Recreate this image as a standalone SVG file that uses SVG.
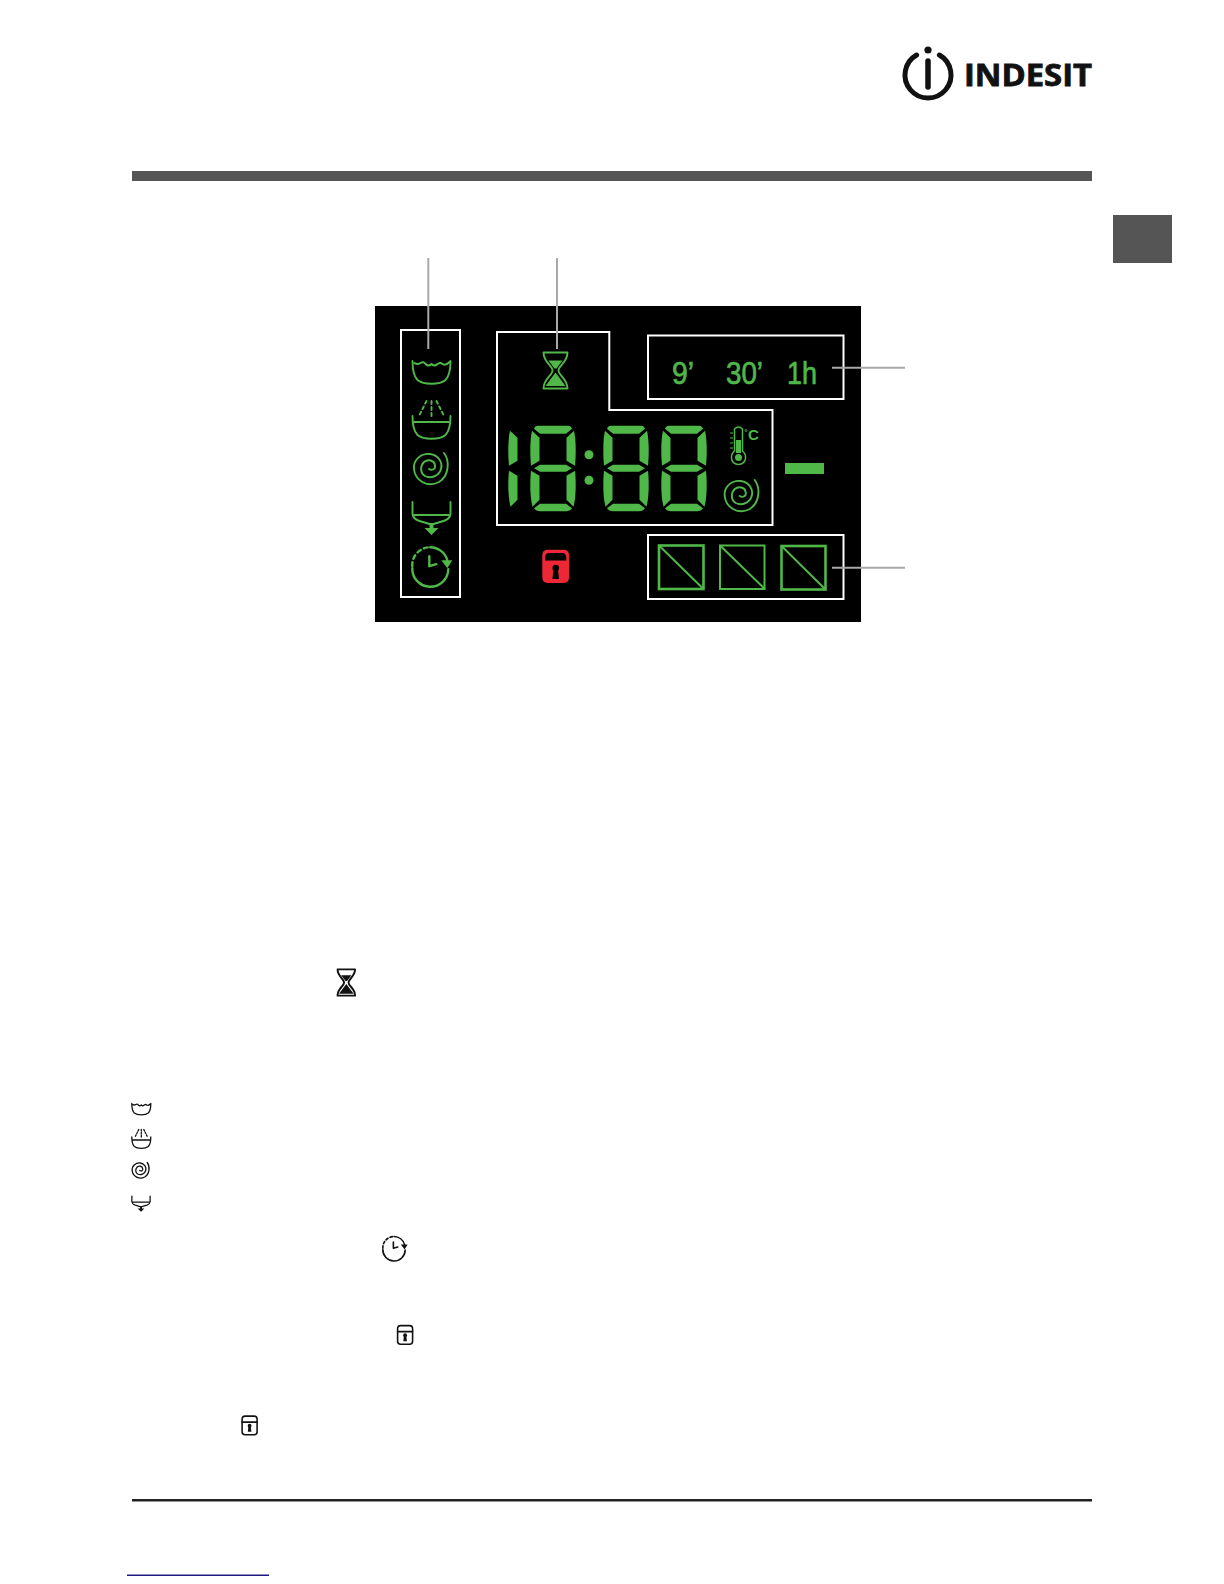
<svg xmlns="http://www.w3.org/2000/svg" xmlns:xlink="http://www.w3.org/1999/xlink" width="1224" height="1584" viewBox="0 0 1224 1584">
<style>
.g{color:#4fb848;stroke-width:1.9}
.k{color:#111;stroke-width:2.6}
.ln{fill:none;stroke:currentColor;stroke-linecap:round;stroke-linejoin:round}
.fl{fill:currentColor;stroke:none}
.box{fill:none;stroke:#fff;stroke-width:2}
.lead{fill:none;stroke:#a7a9ac;stroke-width:2}
.seg{fill:#4fb848}
.sq{fill:none;stroke:#4fb848;stroke-width:2.6}
.t{font-family:"Liberation Sans",Arial,sans-serif;fill:#4fb848;stroke:#4fb848;stroke-width:.7}
</style>
<defs>
<path id="spiral" class="ln" d="M13,-15 C19,-7 18,8 8,14 C-3,20 -16,13 -17,1 C-18,-9 -9,-15 -1,-14 C7,-13 12,-6 10,1 C8,8 0,11 -6,8 C-11,5 -11,-2 -7,-6 C-3,-9 3,-8 4,-3 C5,1 1,3 -2,1"/>
<g id="tub1"><path class="ln" d="M-19,1 C-19,9 -18,16 -14,20 C-8,25 8,25 14,20 C18,16 19,9 19,1 M-17,3 Q-14,5 -11,3 Q-8,1 -6,4 Q-3,7 0,4 Q3,7 6,4 Q9,2 11,4 Q14,6 18,2"/></g>
<g id="tub2"><path class="ln" d="M-19,1 C-19,9 -18,16 -14,20 C-8,25 8,25 14,20 C18,16 19,9 19,1 M-17,7 H17"/><path class="ln" stroke-dasharray="3 3" d="M0,-14 V3 M-5,-14 L-12,0 M5,-14 L12,0"/></g>
<g id="drain"><path class="ln" d="M-19,0 V12 C-18,18 -14,18 -12,19 L-2,22 M19,0 V12 C18,18 14,18 12,19 L2,22 M-17,13 H17"/><path class="fl" d="M-2,21 H2 V26 H7 L0,33 L-7,26 H-2 Z"/></g>
<g id="clock"><path class="ln" d="M-18,3 A18,18 0 0 0 18,4 M0,-18 A18,18 0 0 1 17,-5"/><path class="ln" stroke-dasharray="4 3.5" d="M-18,1 A18,18 0 0 1 -1,-18"/><path class="ln" d="M-1,-9 V1 L6,-1"/><path class="fl" d="M11,-5 L22,-5 L17,3 Z"/></g>
<g id="hour"><path class="ln" d="M-12,-18 H12 M-12,18 H12 M-12,-18 C-12,-8 -3,-5 -3,0 C-3,5 -12,8 -12,18 M12,-18 C12,-8 3,-5 3,0 C3,5 12,8 12,18"/><path class="fl" d="M-7,-10 H7 L1,-2 H-1 Z M0,2 L10,15.5 H-10 Z"/></g>
<g id="lockk"><rect class="ln" x="1" y="1" width="25" height="31" rx="5"/><path class="ln" d="M1,11 H26"/><circle class="fl" cx="13.5" cy="17" r="3.2"/><path class="fl" d="M11.5,18 H15.5 L16.5,27 H10.5 Z"/></g>
<path id="lu" class="seg" d="M2,5 L9.500,12 V35 L1,40 C0,30 -.2,14 2,5 Z"/>
<path id="ll" class="seg" d="M1,45 L9.500,50 V74 L2.500,81 C0,72 -.2,56 1,45 Z"/>
<g id="eight">
<path class="seg" d="M8,0 H38 Q41,0 42,3 L36,8 H10 L4,3 Q5,0 8,0 Z"/>
<use href="#lu"/><use href="#ll"/>
<use href="#lu" transform="matrix(-1 0 0 1 46 0)"/><use href="#ll" transform="matrix(-1 0 0 1 46 0)"/>
<path class="seg" d="M4,42.500 L10,39 H36 L42,42.500 L36,46 H10 Z"/>
<path class="seg" d="M10,78 H36 L42,82.500 Q40,85.500 36,85.500 H10 Q6,85.500 4,82.500 Z"/>
</g>
</defs>
<rect width="1224" height="1584" fill="#fff"/>
<g id="logo">
<path d="M916.600,55 A23,23 0 1 0 939.400,55" fill="none" stroke="#111" stroke-width="5" stroke-linecap="round"/>
<circle cx="928" cy="50" r="3.600" fill="#111"/>
<path d="M928,61 V87" stroke="#111" stroke-width="5.500" stroke-linecap="round"/>
<text x="964" y="86" font-family="Open Sans,Liberation Sans,sans-serif" font-weight="700" font-size="31" textLength="128" lengthAdjust="spacingAndGlyphs" fill="#111" stroke="#111" stroke-width=".8">INDESIT</text>
</g>
<rect id="top-bar" x="132" y="171" width="960" height="10" fill="#555"/>
<rect id="side-tab" x="1113" y="215" width="59" height="48" fill="#555"/>
<rect id="panel" x="375" y="306" width="486" height="316" fill="#000"/>
<g id="boxes">
<rect class="box" x="401" y="330" width="59" height="267"/>
<path class="box" d="M497,332 H609.300 V410 H772.500 V525 H497 Z"/>
<rect class="box" x="648" y="335.500" width="195.500" height="63.500"/>
<rect class="box" x="648" y="535" width="195.500" height="64"/>
</g>
<g id="connectors">
<path class="lead" d="M428.300,258 V349"/>
<path class="lead" d="M557,258 V349"/>
<path class="lead" d="M832,367.700 H905"/>
<path class="lead" d="M832,567.700 H905"/>
</g>
<g id="phase-icons" class="g">
<use href="#tub1" x="431.500" y="360"/>
<use href="#tub2" x="431.500" y="415"/>
<use href="#spiral" x="431" y="468"/>
<use href="#drain" x="431.500" y="502"/>
<use href="#clock" x="430.300" y="565.200" style="stroke-width:2.400"/>
</g>
<g id="hourglass" class="g"><use href="#hour" x="555.500" y="370.500"/></g>
<g id="lock-red">
<rect x="542.300" y="549.700" width="26.700" height="33.300" rx="5" fill="#ee2737"/>
<path d="M545,558 Q545,553 549,553 H562 Q566.300,553 566.300,558 V560.500 H545 Z" fill="#000"/>
<circle cx="555.700" cy="568" r="3.300" fill="#000"/>
<path d="M553.500,569 H557.900 L559,579 H552.400 Z" fill="#000"/>
</g>
<g id="time-digits">
<use href="#ll" x="508" y="425.700"/><use href="#lu" x="508" y="425.700"/>
<use href="#eight" x="530" y="425.700"/>
<circle class="seg" cx="589" cy="454.700" r="4.500"/><circle class="seg" cx="589" cy="480.300" r="4.500"/>
<use href="#eight" x="603" y="425.700"/>
<use href="#eight" x="661" y="425.700"/>
</g>
<g id="temperature">
<path d="M734.500,429 Q738.500,425 742.500,429 V451 Q746,454 745.500,458 A7,6.500 0 0 1 731.500,458 Q731,454 734.500,451 Z" fill="none" stroke="#4fb848" stroke-width="1.500"/>
<rect x="736" y="440" width="5" height="13" fill="#4fb848"/><circle cx="738.500" cy="457.500" r="3.500" fill="#4fb848"/>
<path d="M730,433 H733 M730,438 H733 M730,443 H733 M730,448 H733" stroke="#4fb848" stroke-width="1"/>
<circle cx="746" cy="430.500" r="1" fill="none" stroke="#4fb848" stroke-width=".8"/>
<text class="t" x="748" y="440" font-size="15" font-weight="700" style="stroke-width:0">C</text>
</g>
<g id="spin-icon" class="g"><use href="#spiral" x="741.700" y="495"/></g>
<rect id="dash" x="785" y="463" width="39" height="11" fill="#4fb848"/>
<g id="time-labels">
<text class="t" x="672" y="384" font-size="32" textLength="22" lengthAdjust="spacingAndGlyphs">9’</text>
<text class="t" x="726" y="384" font-size="32" textLength="37" lengthAdjust="spacingAndGlyphs">30’</text>
<text class="t" x="787" y="384" font-size="32" textLength="30" lengthAdjust="spacingAndGlyphs">1h</text>
</g>
<g id="squares">
<rect class="sq" x="659" y="545.500" width="44.500" height="43.500"/><path class="sq" d="M659,545.500 L703.500,589" style="stroke-width:2"/>
<rect class="sq" x="720" y="545.500" width="44.500" height="43.500" style="stroke-width:2"/><path class="sq" d="M720,545.500 L765,589" style="stroke-width:2"/>
<rect class="sq" x="781.500" y="546" width="44" height="43.500"/><path class="sq" d="M781.500,546 L825.500,589.500" style="stroke-width:2"/>
</g>
<g id="icon-hourglass-small" class="k"><use href="#hour" transform="translate(346.300 982.500) scale(.73)"/></g>
<g id="icon-tub1-small" class="k"><use href="#tub1" transform="translate(141.300 1103) scale(.5)"/></g>
<g id="icon-tub2-small" class="k"><use href="#tub2" transform="translate(141.300 1136.500) scale(.5)"/></g>
<g id="icon-spiral-small" class="k"><use href="#spiral" transform="translate(140.700 1170) scale(.5)"/></g>
<g id="icon-drain-small" class="k"><use href="#drain" transform="translate(141 1196) scale(.48)"/></g>
<g id="icon-clock-small" class="k"><use href="#clock" transform="translate(394 1247.700) scale(.62)"/></g>
<g id="icon-lock-small-1" class="k"><use href="#lockk" transform="translate(397 1325) scale(.6)"/></g>
<g id="icon-lock-small-2" class="k"><use href="#lockk" transform="translate(241.500 1415.500) scale(.6)"/></g>
<rect id="bottom-rule" x="132" y="1499" width="960" height="2.500" fill="#222"/>
<rect id="link-underline" x="127" y="1574.500" width="142" height="1.500" fill="#1a1a80"/>
</svg>
